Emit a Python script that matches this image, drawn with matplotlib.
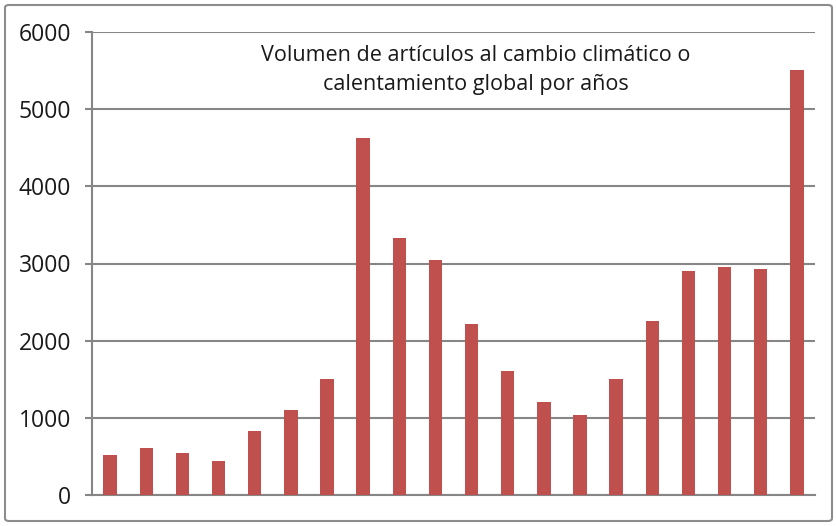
import matplotlib
matplotlib.use('Agg')
import matplotlib.pyplot as plt
from matplotlib.patches import FancyBboxPatch

# datos (20 años, sin etiquetas en el eje x)
years = list(range(1, 21))
volumen = [515, 605, 545, 440, 830, 1100, 1500, 4630, 3335, 3050,
           2210, 1610, 1200, 1040, 1500, 2255, 2900, 2955, 2930, 5505]
yticks = [0, 1000, 2000, 3000, 4000, 5000, 6000]
titulo = 'Volumen de artículos al cambio climático o\ncalentamiento global por años'

plt.rcParams['font.family'] = ['Open Sans', 'DejaVu Sans']

fig = plt.figure(figsize=(8.37, 5.26), dpi=100)
ax = fig.add_axes([92 / 837, 1 - 495 / 526, (815 - 92) / 837, (495 - 32) / 526])

# marco exterior
borde = FancyBboxPatch((5 / 837, 5 / 526), 827 / 837, 516 / 526,
                       boxstyle='round,pad=0,rounding_size=0.005',
                       transform=fig.transFigure, fill=False,
                       edgecolor='#8c8c8c', linewidth=1.5)
fig.patches.append(borde)

ax.bar(range(len(years)), volumen, width=0.37, color='#C0504D', zorder=3)

ax.set_xlim(-0.5, len(years) - 0.5)
ax.set_ylim(0, 6000)
ax.set_yticks(yticks)
ax.set_yticklabels([str(t) for t in yticks], fontsize=16.5, color='#1a1a1a')
ax.set_xticks([])
ax.grid(axis='y', color='#868686', linewidth=1.5, zorder=0)
ax.tick_params(axis='y', length=5, width=1.5, color='#868686', pad=10)

for s in ['top', 'right']:
    ax.spines[s].set_visible(False)
ax.spines['left'].set_color('#868686')
ax.spines['left'].set_linewidth(1.5)
ax.spines['bottom'].set_color('#868686')
ax.spines['bottom'].set_linewidth(1.5)

ax.text(476 / 837, 1 - 70 / 526, titulo, transform=fig.transFigure,
        ha='center', va='center', fontsize=15.5, color='#1a1a1a', linespacing=1.55)

plt.savefig('out.png', dpi=100)
